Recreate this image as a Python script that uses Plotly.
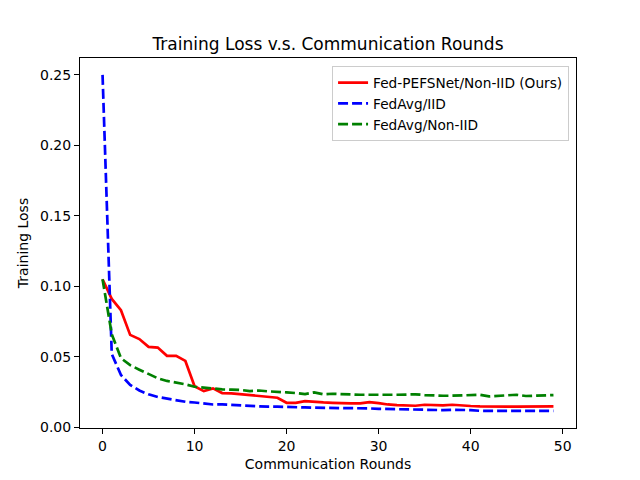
import plotly.graph_objects as go

# communication rounds 0..49
rounds = list(range(50))

# Fed-PEFSNet/Non-IID (Ours)
pefs_noniid = [0.105, 0.091, 0.083, 0.0655, 0.0625, 0.057, 0.0565, 0.0506, 0.0506, 0.047,
               0.029, 0.0256, 0.0275, 0.0242, 0.024, 0.0233, 0.0226, 0.0218, 0.0216, 0.0209,
               0.0173, 0.0173, 0.0185, 0.0178, 0.0176, 0.0173, 0.0169, 0.0169, 0.0169, 0.0178,
               0.0171, 0.0161, 0.0157, 0.0152, 0.0152, 0.0159, 0.0154, 0.0154, 0.0159, 0.0152,
               0.015, 0.0147, 0.0145, 0.0145, 0.0145, 0.0145, 0.0145, 0.0142, 0.0147, 0.0147]

# FedAvg/IID
fedavg_iid = [0.25, 0.052, 0.037, 0.030, 0.026, 0.0233, 0.0214, 0.0202, 0.019, 0.018,
              0.0175, 0.0169, 0.0161, 0.0161, 0.0157, 0.0152, 0.0152, 0.0147, 0.0145, 0.0145,
              0.0145, 0.0142, 0.014, 0.0138, 0.0138, 0.0135, 0.0135, 0.0135, 0.0135, 0.0133,
              0.013, 0.0128, 0.0126, 0.0126, 0.0126, 0.0121, 0.0121, 0.0121, 0.0123, 0.0123,
              0.0121, 0.0116, 0.0116, 0.0119, 0.0121, 0.0121, 0.0119, 0.0119, 0.0116, 0.0116]

# FedAvg/Non-IID
fedavg_noniid = [0.105, 0.066, 0.049, 0.044, 0.0408, 0.0375, 0.0347, 0.0328, 0.0318, 0.0304,
                 0.0287, 0.028, 0.0275, 0.0268, 0.0266, 0.0264, 0.0256, 0.026, 0.0254, 0.0252,
                 0.0247, 0.0242, 0.0235, 0.0247, 0.0233, 0.0237, 0.0233, 0.023, 0.023, 0.023,
                 0.0228, 0.023, 0.023, 0.0233, 0.0233, 0.0228, 0.0223, 0.0223, 0.0223, 0.0226,
                 0.0226, 0.023, 0.0218, 0.0221, 0.0226, 0.023, 0.0221, 0.0223, 0.0223, 0.0228]

fig = go.Figure()

fig.add_trace(go.Scatter(x=rounds, y=pefs_noniid, mode="lines",
                         name="Fed-PEFSNet/Non-IID (Ours)",
                         line=dict(color="#ff0000", width=2.7)))
fig.add_trace(go.Scatter(x=rounds, y=fedavg_iid, mode="lines",
                         name="FedAvg/IID",
                         line=dict(color="#0000ff", width=2.7, dash="10px,4px")))
fig.add_trace(go.Scatter(x=rounds, y=fedavg_noniid, mode="lines",
                         name="FedAvg/Non-IID",
                         line=dict(color="#008000", width=2.7, dash="10px,4px")))

axis_style = dict(showline=True, linecolor="black", linewidth=1, mirror=True,
                  ticks="outside", ticklen=5, tickcolor="black", tickwidth=1,
                  showgrid=False, zeroline=False, automargin=False,
                  tickfont=dict(size=14))

fig.update_xaxes(range=[-2.45, 51.45], tickvals=[0, 10, 20, 30, 40, 50],
                 title=dict(text="Communication Rounds", standoff=6, font=dict(size=14)),
                 **axis_style)
fig.update_yaxes(range=[-0.0006, 0.262], tickvals=[0, 0.05, 0.10, 0.15, 0.20, 0.25],
                 tickformat=".2f",
                 title=dict(text="Training Loss", standoff=8, font=dict(size=14)),
                 **axis_style)

# the page body adds an 8px offset, so margins are shifted to keep the axes in place
fig.update_layout(
    width=640, height=480,
    margin=dict(l=72, r=72, t=50, b=60),
    paper_bgcolor="white", plot_bgcolor="white",
    font=dict(family="DejaVu Sans", size=14, color="black"),
    title=dict(text="Training Loss v.s. Communication Rounds", x=0.5, xanchor="center",
               xref="paper", y=1 - 36 / 480, yanchor="middle", font=dict(size=17)),
    legend=dict(x=0.986, y=0.978, xanchor="right", yanchor="top",
                bordercolor="#cccccc", borderwidth=1, bgcolor="rgba(255,255,255,0.8)",
                font=dict(size=13.7)),
)

fig.write_html("out.html")
